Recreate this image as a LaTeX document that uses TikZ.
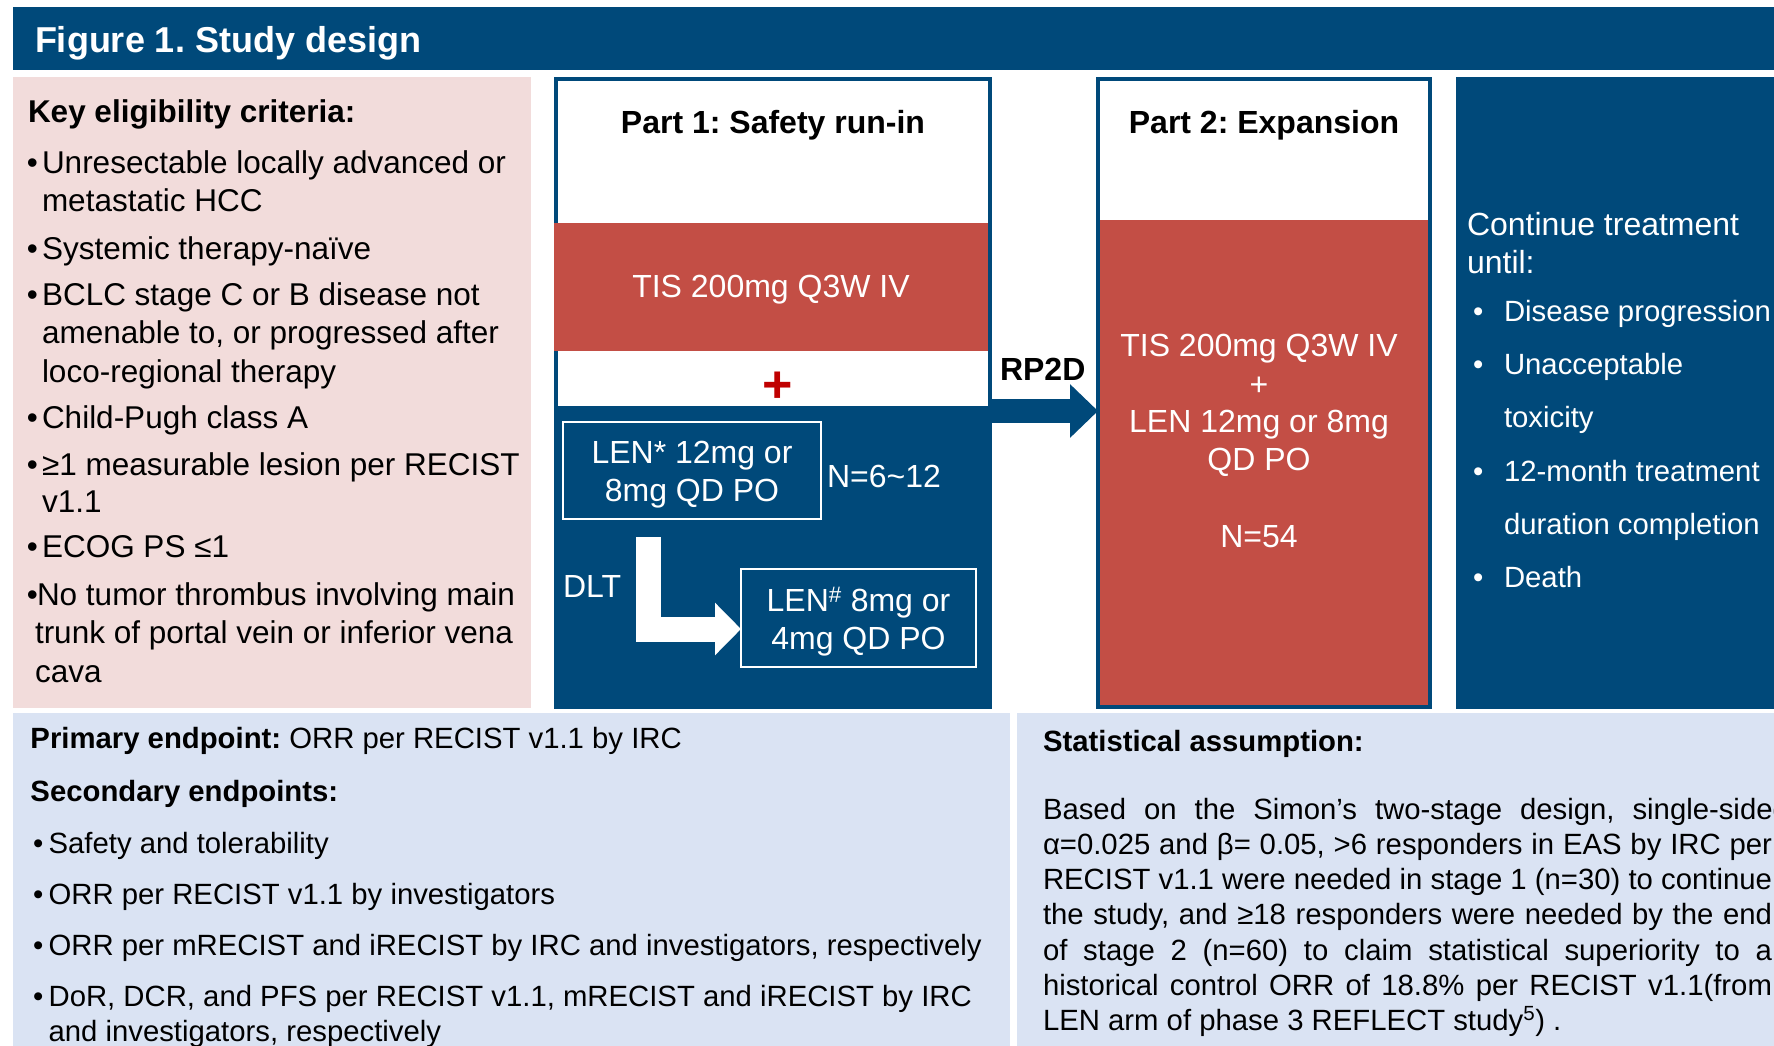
\documentclass[tikz,border=0pt]{standalone}
\usepackage{fontspec}
\setmainfont{Liberation Sans}
\usetikzlibrary{arrows.meta}
\definecolor{dblue}{RGB}{0,73,122}
\definecolor{bred}{RGB}{195,78,69}
\definecolor{pinkbg}{RGB}{242,220,219}
\definecolor{lblue}{RGB}{218,227,243}
\definecolor{plusred}{RGB}{192,0,0}
\begin{document}
\frenchspacing
\begin{tikzpicture}[x=1pt,y=-1pt,
  box/.style={rectangle, anchor=north west, inner sep=0pt, outer sep=0pt},
  txt/.style={inner sep=0pt, outer sep=0pt, anchor=base west},
  ctr/.style={inner sep=0pt, outer sep=0pt, anchor=base},
  f32/.style={font=\fontsize{32}{38}\selectfont},
  b32/.style={font=\fontsize{32}{38}\selectfont\bfseries},
  f31/.style={font=\fontsize{31.5}{38}\selectfont},
  f29/.style={font=\fontsize{29.3}{35.2}\selectfont},
  lenbox/.style={draw=white, line width=1.5pt, inner sep=0pt, outer sep=0pt},
  lentext/.style={align=center, text=white, inner sep=0pt, outer sep=0pt, font=\fontsize{32}{38}\selectfont},
]
\useasboundingbox (0,0) rectangle (1774,1046);
\clip (0,0) rectangle (1774,1046);
\fill[white] (0,0) rectangle (1774,1046);

% title bar
\node[box, fill=dblue, minimum width=1761pt, minimum height=63pt] (bar) at (13,7) {};
\node[txt, text=white, font=\fontsize{36}{40}\selectfont\bfseries] (title) at (35,53) {Figure 1. Study design};

% eligibility panel
\node[box, fill=pinkbg, minimum width=518pt, minimum height=631pt] (elig) at (13,77) {};
\node[txt, font=\fontsize{31.5}{38}\selectfont\bfseries] (ekey) at (28,123) {Key eligibility criteria:};
\foreach \n/\x/\y/\t in {
 e1/42/173/{Unresectable locally advanced or},
 e2/42/211/{metastatic HCC},
 e3/42/259/{Systemic therapy-naïve},
 e4/42/305/{BCLC stage C or B disease not},
 e5/42/343/{amenable to, or progressed after},
 e6/42/382/{loco-regional therapy},
 e7/42/428/{Child-Pugh class A},
 e8/42/475/{≥1 measurable lesion per RECIST},
 e9/42/512/{v1.1},
 e10/42/557/{ECOG PS ≤1},
 e11/37/605/{No tumor thrombus involving main},
 e12/35/643/{trunk of portal vein or inferior vena},
 e13/35/682/{cava}}
 \node[txt,f31] (\n) at (\x,\y) {\t};
\foreach \n/\y in {eb1/173,eb3/259,eb4/305,eb7/428,eb8/475,eb10/557,eb11/605}
 \node[txt,f31] (\n) at (27,\y) {•};

% Part 1
\node[box, draw=dblue, line width=4pt, fill=white, minimum width=434pt, minimum height=628pt] (p1) at (556,79) {};
\node[ctr,b32] (p1t) at (773,134) {Part 1: Safety run-in};
\node[box, fill=bred, minimum width=434pt, minimum height=128pt] (p1red) at (554,223) {};
\node[ctr,f32,text=white] (tis1) at (771,297) {TIS 200mg Q3W IV};
\node[inner sep=0pt, text=plusred, font=\fontsize{52}{52}\selectfont\bfseries] (plus) at (778,387) {+};
\node[box, fill=dblue, minimum width=438pt, minimum height=303pt] (p1blue) at (554,406) {};
\node[lenbox, minimum width=258pt, minimum height=97pt] (len1) at (692,470.5) {};
\node[lentext, yshift=-4pt] (len1t) at (len1.center) {LEN* 12mg or\\8mg QD PO};
\node[txt,f32,text=white] (n612) at (827,487) {N=6\textasciitilde 12};
\node[txt,f32,text=white] (dlt) at (563,597) {DLT};
\node[lenbox, minimum width=235pt, minimum height=98pt] (len2) at (858.5,618) {};
\node[lentext, yshift=-3.5pt] (len2t) at (len2.center) {LEN\textsuperscript{\#} 8mg or\\4mg QD PO};
\coordinate (dlt0) at (648.5,537);
\draw[white, line width=25pt, -{Triangle[length=26pt,width=51pt]}] (dlt0) |- ([yshift=-11pt]len2.west);

% Part 2
\node[box, draw=dblue, line width=4pt, fill=white, minimum width=332pt, minimum height=628pt] (p2) at (1098,79) {};
\node[ctr,b32] (p2t) at (1264,134) {Part 2: Expansion};
\node[box, fill=bred, minimum width=328pt, minimum height=485pt] (p2red) at (1100,220) {};
\node[ctr,f32,text=white] (tis2) at (1259,356) {TIS 200mg Q3W IV};
\node[ctr,f32,text=white] (pl2) at (1259,395) {+};
\node[ctr,f32,text=white] (len3) at (1259,432) {LEN 12mg or 8mg};
\node[ctr,f32,text=white] (qd) at (1259,470) {QD PO};
\node[ctr,f32,text=white] (n54) at (1259,547) {N=54};

% RP2D arrow
\node[txt,b32] (rp2d) at (1000,380) {RP2D};
\coordinate (ay) at (0,411);
\draw[dblue, line width=24pt, -{Triangle[length=28pt,width=52pt]}] (p1blue.east |- ay) -- (p2.west |- ay);

% continue panel
\node[box, fill=dblue, minimum width=318pt, minimum height=632pt] (cont) at (1456,77) {};
\node[txt,f32,text=white] (ct1) at (1467,235) {Continue treatment};
\node[txt,f32,text=white] (ct2) at (1467,273) {until:};
\foreach \n/\y/\t in {c1/321/{Disease progression}, c2/374/{Unacceptable}, c3/427/{toxicity}, c4/481/{12-month treatment}, c5/534/{duration completion}, c6/587/{Death}}
 \node[txt,f29,text=white] (\n) at (1504,\y) {\t};
\foreach \n/\y in {cb1/321, cb2/374, cb4/481, cb6/587}
 \node[txt,f29,text=white] (\n) at (1473,\y) {•};

% endpoints panel
\node[box, fill=lblue, minimum width=997pt, minimum height=333pt] (endp) at (13,713) {};
\node[txt,f29] (pe) at (30.5,748) {\textbf{Primary endpoint:} ORR per RECIST v1.1 by IRC};
\node[txt,f29] (se) at (30.5,801) {\textbf{Secondary endpoints:}};
\foreach \n/\y/\t in {s1/853/{Safety and tolerability}, s2/904/{ORR per RECIST v1.1 by investigators}, s3/955/{ORR per mRECIST and iRECIST by IRC and investigators, respectively}, s4/1006/{DoR, DCR, and PFS per RECIST v1.1, mRECIST and iRECIST by IRC}, s5/1041/{and investigators, respectively}}
 \node[txt,f29] (\n) at (48.6,\y) {\t};
\foreach \n/\y in {sb1/853, sb2/904, sb3/955, sb4/1006}
 \node[txt,f29] (\n) at (33,\y) {•};

% statistical panel
\node[box, fill=lblue, minimum width=757pt, minimum height=333pt] (stat) at (1017,713) {};
\node[txt,f29] (sth) at (1043,751) {\textbf{Statistical assumption:}};
\node[txt,f29] (st1) at (1043,819) {\makebox[746pt][s]{Based on the Simon’s two-stage design, single-sided}};
\node[txt,f29] (st2) at (1043,854) {\makebox[729pt][s]{α=0.025 and β= 0.05, >6 responders in EAS by IRC per}};
\node[txt,f29] (st3) at (1043,889) {\makebox[729pt][s]{RECIST v1.1 were needed in stage 1 (n=30) to continue}};
\node[txt,f29] (st4) at (1043,924) {\makebox[729pt][s]{the study, and ≥18 responders were needed by the end}};
\node[txt,f29] (st5) at (1043,960) {\makebox[729pt][s]{of stage 2 (n=60) to claim statistical superiority to a}};
\node[txt,f29] (st6) at (1043,995) {\makebox[729pt][s]{historical control ORR of 18.8\% per RECIST v1.1(from}};
\node[txt,f29] (st7) at (1043,1030) {LEN arm of phase 3 REFLECT study\textsuperscript{5}) .};
\end{tikzpicture}
\end{document}
